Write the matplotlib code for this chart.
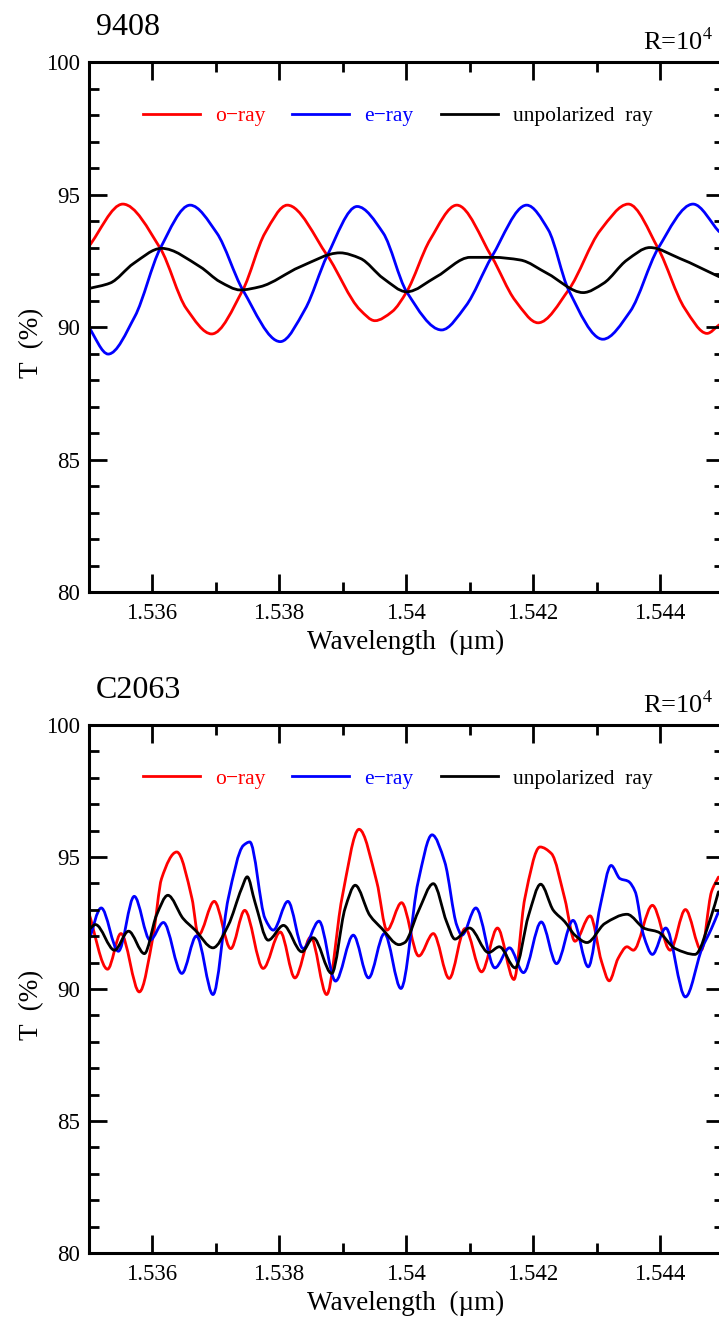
import numpy as np
import matplotlib
matplotlib.use("Agg")
import matplotlib.pyplot as plt
from matplotlib.path import Path
from matplotlib.patches import PathPatch
from matplotlib.lines import Line2D

plt.rcParams['font.family'] = ['Liberation Serif', 'DejaVu Serif']
plt.rcParams['mathtext.fontset'] = 'stix'

# ---- panel 1: sample 9408 ----
wl_o_9408 = [1.53500, 1.53554, 1.53613, 1.53654, 1.53694, 1.53743, 1.53778, 1.53813,
             1.53876, 1.53928, 1.53951, 1.53978, 1.54001, 1.54038, 1.54080, 1.54135,
             1.54172, 1.54208, 1.54256, 1.54306, 1.54350, 1.54397, 1.54439, 1.54474, 1.54493]
t_o_9408 = [93.03, 94.64, 92.97, 90.70, 89.74, 91.40, 93.55, 94.60,
            92.70, 90.64, 90.24, 90.58, 91.33, 93.30, 94.60, 92.65,
            91.00, 90.16, 91.40, 93.65, 94.64, 92.97, 90.70, 89.76, 90.08]

wl_e_9408 = [1.53500, 1.53531, 1.53573, 1.53613, 1.53660, 1.53702, 1.53743, 1.53802,
             1.53841, 1.53876, 1.53923, 1.53964, 1.54001, 1.54056, 1.54094, 1.54135,
             1.54190, 1.54224, 1.54256, 1.54310, 1.54353, 1.54397, 1.54452, 1.54493]
t_e_9408 = [90.01, 88.98, 90.40, 92.97, 94.60, 93.55, 91.40, 89.45,
            90.67, 92.70, 94.55, 93.55, 91.33, 89.89, 90.79, 92.65,
            94.60, 93.67, 91.40, 89.54, 90.59, 92.97, 94.64, 93.60]

wl_u_9408 = [1.53500, 1.53534, 1.53571, 1.53615, 1.53676, 1.53707, 1.53739, 1.53770,
             1.53833, 1.53896, 1.53928, 1.53964, 1.54001, 1.54048, 1.54101, 1.54137,
             1.54180, 1.54222, 1.54279, 1.54311, 1.54348, 1.54384, 1.54431, 1.54493]
t_u_9408 = [91.45, 91.66, 92.40, 92.97, 92.27, 91.71, 91.40, 91.52,
            92.27, 92.80, 92.59, 91.84, 91.33, 91.90, 92.63, 92.63,
            92.53, 92.03, 91.30, 91.65, 92.53, 93.00, 92.59, 91.90]

# ---- panel 2: sample C2063 ----
wl_o_c2063 = [1.53500, 1.53530, 1.53551, 1.53580, 1.53602, 1.53615, 1.53639, 1.53663,
              1.53673, 1.53698, 1.53724, 1.53746, 1.53775, 1.53802, 1.53825, 1.53850,
              1.53875, 1.53899, 1.53926, 1.53954, 1.53970, 1.53993, 1.54020, 1.54043,
              1.54068, 1.54093, 1.54119, 1.54144, 1.54170, 1.54187, 1.54211, 1.54229,
              1.54250, 1.54266, 1.54290, 1.54308, 1.54320, 1.54334, 1.54348, 1.54358,
              1.54388, 1.54416, 1.54440, 1.54465, 1.54481, 1.54492]
t_o_c2063 = [92.92, 90.75, 92.10, 89.89, 92.04, 94.18, 95.19, 93.42,
             92.04, 93.32, 91.53, 92.98, 90.78, 92.16, 90.42, 91.97,
             89.79, 93.42, 96.05, 94.05, 92.23, 93.27, 91.25, 92.10,
             90.40, 92.29, 90.65, 92.31, 90.36, 93.42, 95.38, 95.13,
             93.42, 91.81, 92.77, 91.03, 90.31, 91.16, 91.60, 91.47,
             93.17, 91.47, 93.01, 91.47, 93.68, 94.24]

wl_e_c2063 = [1.53500, 1.53520, 1.53547, 1.53572, 1.53597, 1.53618, 1.53647, 1.53670,
              1.53696, 1.53720, 1.53744, 1.53754, 1.53778, 1.53791, 1.53814, 1.53838,
              1.53863, 1.53889, 1.53917, 1.53941, 1.53966, 1.53992, 1.54019, 1.54041,
              1.54061, 1.54080, 1.54088, 1.54110, 1.54140, 1.54163, 1.54185, 1.54213,
              1.54237, 1.54263, 1.54287, 1.54306, 1.54323, 1.54337, 1.54350, 1.54361,
              1.54374, 1.54388, 1.54409, 1.54440, 1.54466, 1.54481, 1.54492]
t_e_c2063 = [91.78, 93.07, 91.43, 93.51, 91.85, 92.52, 90.59, 92.01,
             89.79, 93.42, 95.44, 95.57, 92.67, 92.23, 93.32, 91.53,
             92.57, 90.30, 92.04, 90.42, 92.10, 90.02, 94.05, 95.84,
             94.81, 92.41, 92.04, 93.07, 90.80, 91.56, 90.62, 92.54,
             90.96, 92.60, 90.84, 93.17, 94.68, 94.18, 94.08, 93.68,
             92.04, 91.31, 92.31, 89.70, 91.53, 92.29, 92.92]

wl_u_c2063 = [1.53500, 1.53511, 1.53541, 1.53563, 1.53588, 1.53607, 1.53625, 1.53649,
              1.53668, 1.53696, 1.53720, 1.53741, 1.53750, 1.53762, 1.53783, 1.53807,
              1.53836, 1.53854, 1.53883, 1.53904, 1.53920, 1.53943, 1.53962, 1.53989,
              1.53998, 1.54019, 1.54043, 1.54064, 1.54077, 1.54100, 1.54130, 1.54147,
              1.54172, 1.54193, 1.54212, 1.54232, 1.54250, 1.54266, 1.54285, 1.54313,
              1.54348, 1.54376, 1.54397, 1.54424, 1.54455, 1.54481, 1.54492]
t_u_c2063 = [92.23, 92.44, 91.47, 92.19, 91.34, 92.79, 93.55, 92.67,
             92.23, 91.56, 92.41, 93.80, 94.25, 93.30, 91.85, 92.41,
             91.41, 91.94, 90.59, 93.05, 93.93, 92.79, 92.29, 91.68,
             91.76, 92.92, 93.99, 92.54, 91.89, 92.31, 91.38, 91.60,
             90.80, 92.79, 93.97, 92.98, 92.55, 92.04, 91.76, 92.48,
             92.83, 92.29, 92.16, 91.53, 91.31, 92.79, 93.68]

series_labels = ['o\u2212ray', 'e\u2212ray', 'unpolarized  ray']
series_colors = ['#ff0000', '#0000ff', '#000000']
x_ticks = [1.536, 1.538, 1.540, 1.542, 1.544]
x_ticklabels = ['1.536', '1.538', '1.54', '1.542', '1.544']
y_ticks = [80, 85, 90, 95, 100]

panels = [
    ('9408', [(wl_o_9408, t_o_9408), (wl_e_9408, t_e_9408), (wl_u_9408, t_u_9408)]),
    ('C2063', [(wl_o_c2063, t_o_c2063), (wl_e_c2063, t_e_c2063), (wl_u_c2063, t_u_c2063)]),
]


def smooth_path(x, y):
    # monotone cubic through the read points, drawn as bezier segments
    x = np.asarray(x, float)
    y = np.asarray(y, float)
    h = np.diff(x)
    d = np.diff(y) / h
    m = np.zeros_like(y)
    m[0], m[-1] = d[0], d[-1]
    for i in range(1, len(x) - 1):
        if d[i - 1] * d[i] > 0:
            w1 = 2 * h[i] + h[i - 1]
            w2 = h[i] + 2 * h[i - 1]
            m[i] = (w1 + w2) / (w1 / d[i - 1] + w2 / d[i])
    verts = [(x[0], y[0])]
    codes = [Path.MOVETO]
    for i in range(len(x) - 1):
        verts += [(x[i] + h[i] / 3, y[i] + m[i] * h[i] / 3),
                  (x[i + 1] - h[i] / 3, y[i + 1] - m[i + 1] * h[i] / 3),
                  (x[i + 1], y[i + 1])]
        codes += [Path.CURVE4] * 3
    return Path(verts, codes)


fig = plt.figure(figsize=(7.19, 13.23), dpi=100)
axes_rects = [[0.1231, 0.5525, 0.8832, 0.4006], [0.1231, 0.0529, 0.8832, 0.3991]]

for (name, series), rect in zip(panels, axes_rects):
    ax = fig.add_axes(rect)
    for (wl, t), color in zip(series, series_colors):
        ax.add_patch(PathPatch(smooth_path(wl, t), fill=False, edgecolor=color,
                               lw=2.0, joinstyle='round', capstyle='round'))
    ax.set_xlim(1.535, 1.545)
    ax.set_ylim(80, 100)
    ax.set_xticks(x_ticks)
    ax.set_xticklabels(x_ticklabels)
    ax.set_xticks(np.arange(1.535, 1.5451, 0.001), minor=True)
    ax.set_yticks(y_ticks)
    ax.set_yticks(np.arange(80, 101, 1), minor=True)
    ax.tick_params(which='both', direction='in', top=True, right=True,
                   width=2, labelsize=16.5)
    ax.tick_params(axis='x', pad=8)
    ax.tick_params(axis='y', pad=6)
    ax.tick_params(which='major', length=13)
    ax.tick_params(which='minor', length=7.5)
    for sp in ax.spines.values():
        sp.set_linewidth(2.2)
    ax.set_xlabel('Wavelength  (\u00b5m)', fontsize=19.5, labelpad=4)
    ax.set_ylabel('T  (%)', fontsize=19.5)
    ax.yaxis.set_label_coords(-0.07, 0.47)
    ax.text(0.012, 1.051, name, transform=ax.transAxes, fontsize=23, va='baseline')
    ax.text(0.9835, 1.022, r'R=10$^{4}$', transform=ax.transAxes, fontsize=19,
            va='baseline', ha='right')
    handles = [Line2D([], [], color=c, lw=2.0) for c in series_colors]
    ax.legend(handles, series_labels, ncol=3, loc='center left',
              bbox_to_anchor=(0.0858, 0.898), frameon=False, fontsize=15.5,
              handlelength=2.65, handletextpad=0.7, columnspacing=1.25,
              borderpad=0, borderaxespad=0, labelcolor=series_colors)

fig.savefig('out.png', dpi=100)
